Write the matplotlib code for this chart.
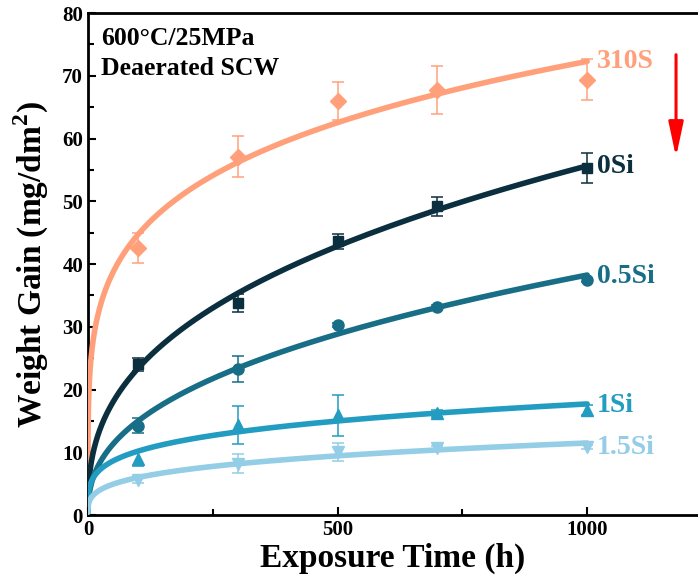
import numpy as np
import matplotlib
matplotlib.use('Agg')
import matplotlib.pyplot as plt

plt.rcParams['font.family'] = ['Liberation Serif', 'DejaVu Serif']
plt.rcParams['font.weight'] = 'bold'
plt.rcParams['mathtext.fontset'] = 'custom'
plt.rcParams['mathtext.rm'] = 'Liberation Serif:bold'

# exposure times (h)
time = np.array([100, 300, 500, 700, 1000])

# weight gain (mg/dm2) and error bars
names = ['310S', '0Si', '0.5Si', '1Si', '1.5Si']
gain_310S = [42.5, 57.1, 66.0, 67.7, 69.4]
err_310S = [2.4, 3.3, 3.0, 3.8, 3.3]
gain_0Si = [24.0, 33.8, 43.6, 49.2, 55.3]
err_0Si = [1.1, 1.4, 1.2, 1.5, 2.4]
gain_05Si = [14.2, 23.3, 30.3, 33.1, 37.5]
err_05Si = [1.2, 2.1, 0.3, 0.3, 0.3]
gain_1Si = [9.0, 14.4, 15.9, 16.2, 16.8]
err_1Si = [1.25, 3.0, 3.3, 0.6, 0.8]
gain_15Si = [5.6, 8.2, 10.0, 10.7, 10.9]
err_15Si = [0.5, 1.5, 1.45, 0.3, 0.3]

gains = [gain_310S, gain_0Si, gain_05Si, gain_1Si, gain_15Si]
errs = [err_310S, err_0Si, err_05Si, err_1Si, err_15Si]
colors = ['#FFA07A', '#0B2F3F', '#176E86', '#229CC0', '#93CDE6']
markers = ['D', 's', 'o', '^', 'v']
msizes = [8, 7.5, 8, 9, 9]
label_y = [72.2, 55.5, 38.0, 17.5, 10.7]


def power_fit(t, y):
    # least squares fit of y = a * t^n (grid over n, closed form for a)
    best = (None, None, np.inf)
    for n in np.linspace(0.05, 1.0, 1901):
        tn = t ** n
        a = np.sum(y * tn) / np.sum(tn * tn)
        sse = np.sum((y - a * tn) ** 2)
        if sse < best[2]:
            best = (a, n, sse)
    return best[0], best[1]


fig = plt.figure(figsize=(6.98, 5.80), dpi=100)
ax = fig.add_axes([0.126, 0.112, 0.874, 0.8655])

tt = np.geomspace(0.01, 1000, 500)
for name, g, e, c, m, ms, ly in zip(names, gains, errs, colors, markers, msizes, label_y):
    g = np.array(g)
    ax.errorbar(time, g, yerr=e, fmt=m, color=c, ms=ms, capsize=4,
                elinewidth=1.1, capthick=1.1, zorder=3)
    a, n = power_fit(time.astype(float), g)
    ax.plot(tt, a * tt ** n, color=c, lw=4, zorder=4, solid_capstyle='round')
    ax.text(1020, ly, name, color=c, fontsize=20, fontweight='bold',
            va='center', ha='left')

ax.annotate('', xy=(1178, 56.6), xytext=(1178, 73.8),
            arrowprops=dict(arrowstyle='-|>,head_length=1.5,head_width=0.32',
                            color='red', lw=2.2, mutation_scale=14))

ax.text(0.021, 76.0, '600°C/25MPa', transform=ax.get_yaxis_transform(),
        fontsize=18.5, fontweight='bold', va='center')
ax.text(0.021, 71.2, 'Deaerated SCW', transform=ax.get_yaxis_transform(),
        fontsize=18.5, fontweight='bold', va='center')

ax.set_xlim(0, 1222)
ax.set_ylim(0, 80)
ax.set_xticks([0, 500, 1000])
ax.set_xticks([250, 750], minor=True)
ax.set_yticks(np.arange(0, 81, 10))
ax.set_yticks(np.arange(5, 80, 10), minor=True)
ax.tick_params(which='both', direction='in', width=1.5, labelsize=15)
ax.tick_params(which='major', length=6)
ax.tick_params(which='minor', length=4)
for lab in ax.get_xticklabels() + ax.get_yticklabels():
    lab.set_fontweight('bold')
for s in ['left', 'bottom', 'top']:
    ax.spines[s].set_linewidth(2)
ax.spines['right'].set_visible(False)

ax.set_xlabel('Exposure Time (h)', fontsize=24, fontweight='bold', labelpad=2)
ax.set_ylabel('Weight Gain (mg/dm$^2$)', fontsize=24, fontweight='bold', labelpad=8)

fig.savefig('out.png', dpi=100)
